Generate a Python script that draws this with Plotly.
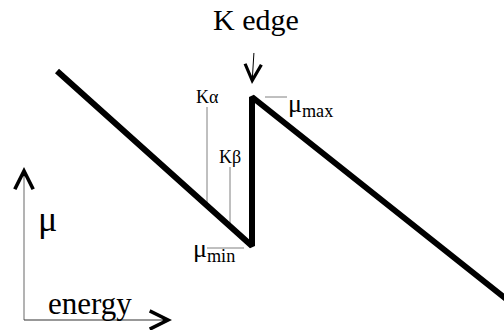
import plotly.graph_objects as go

# Schematic absorption curve: mu versus energy (arbitrary units)
energy = [57, 252, 252, 520]
mu = [259, 84, 233, 20]

# emission lines (energy position, top of marker line)
line_names = ["Kα", "Kβ"]
line_energy = [207, 230]
line_top = [223, 163]

# axis arrows (schematic axes)
axis_origin = (24, 10)
axis_energy_end = 172
axis_mu_end = 163

FONT = "Liberation Serif"

fig = go.Figure()

slope = (mu[1] - mu[0]) / (energy[1] - energy[0])
for e, top in zip(line_energy, line_top):
    y_curve = mu[0] + slope * (e - energy[0])
    fig.add_trace(go.Scatter(x=[e, e], y=[top, y_curve], mode="lines",
                             line=dict(color="#808080", width=1), hoverinfo="skip"))

# mu_max / mu_min leader lines
fig.add_trace(go.Scatter(x=[265, 287], y=[233, 233], mode="lines",
                         line=dict(color="#808080", width=1), hoverinfo="skip"))
fig.add_trace(go.Scatter(x=[207, 244], y=[82, 82], mode="lines",
                         line=dict(color="#808080", width=1), hoverinfo="skip"))

# main curve
fig.add_trace(go.Scatter(x=energy, y=mu, mode="lines",
                         line=dict(color="black", width=6), hoverinfo="skip"))

# schematic axes
ox, oy = axis_origin
fig.add_trace(go.Scatter(x=[ox, ox], y=[oy, axis_mu_end - 4], mode="lines",
                         line=dict(color="#808080", width=1.2), hoverinfo="skip"))
fig.add_trace(go.Scatter(x=[ox, axis_energy_end - 4], y=[oy, oy], mode="lines",
                         line=dict(color="#333333", width=1.2), hoverinfo="skip"))

# axis arrow heads
heads = [
    dict(x=ox, y=axis_mu_end, ax=0, ay=10),
    dict(x=axis_energy_end, y=oy, ax=-10, ay=0),
]
for h in heads:
    fig.add_annotation(x=h["x"], y=h["y"], ax=h["ax"], ay=h["ay"], text="",
                       showarrow=True, arrowhead=5, arrowsize=3.6, arrowwidth=1,
                       arrowcolor="black", xref="x", yref="y")

# K edge label with pointer
fig.add_annotation(x=252, y=246, ax=256, ay=311, axref="x", ayref="y",
                   text="K edge", showarrow=True, arrowhead=5, arrowsize=3.2,
                   arrowwidth=1, arrowcolor="black", startstandoff=16,
                   font=dict(family=FONT, size=30, color="black"))
for name, e, top in zip(line_names, line_energy, line_top):
    fig.add_annotation(x=e, y=top + 10, text=name, showarrow=False,
                       font=dict(family=FONT, size=18, color="black"))
fig.add_annotation(x=286, y=225, text="μ<sub>max</sub>", showarrow=False,
                   xanchor="left", font=dict(family=FONT, size=26, color="black"))
fig.add_annotation(x=191, y=80, text="μ<sub>min</sub>", showarrow=False,
                   xanchor="left", font=dict(family=FONT, size=26, color="black"))
fig.add_annotation(x=47, y=111, text="μ", showarrow=False,
                   font=dict(family=FONT, size=36, color="black"))
fig.add_annotation(x=90, y=27, text="energy", showarrow=False,
                   font=dict(family=FONT, size=31, color="black"))

fig.update_layout(
    width=504, height=330, margin=dict(l=0, r=0, t=0, b=0),
    paper_bgcolor="white", plot_bgcolor="white", showlegend=False,
    xaxis=dict(range=[0, 504], visible=False, fixedrange=True),
    yaxis=dict(range=[0, 330], visible=False, fixedrange=True),
)

fig.write_html("out.html", config={"displayModeBar": False, "staticPlot": True},
               post_script="document.body.style.margin='0';")
